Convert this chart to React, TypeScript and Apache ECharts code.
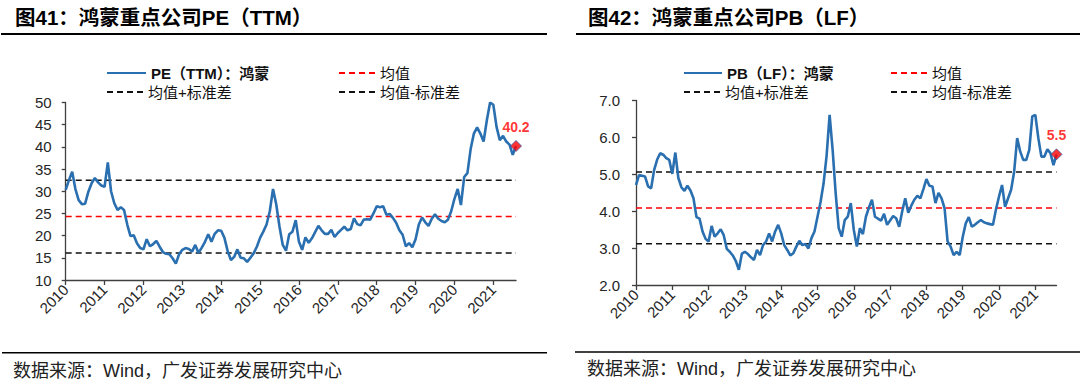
import React, { useEffect, useRef } from "react";
import * as echarts from "echarts";

// ---- data ----
const years = [2010, 2011, 2012, 2013, 2014, 2015, 2016, 2017, 2018, 2019, 2020, 2021];
const monthCount = 140; // Jan 2010 .. Aug 2021
const categories: string[] = [];
years.forEach((y) => {
  for (let m = 1; m <= 12; m++) categories.push(`${y}-${m < 10 ? "0" + m : m}`);
});
categories.length = monthCount;

const peValues = [
  30.3, 32.5, 34.4, 30.5, 28.0, 27.1, 27.2, 29.9, 31.8, 33.0, 32.0, 31.3,
  31.0, 36.5, 30.0, 27.3, 25.8, 26.4, 25.8, 22.5, 19.9, 20.1, 18.3, 17.2,
  16.9, 19.2, 17.6, 18.1, 18.8, 17.5, 16.3, 15.9, 15.8, 14.9, 13.7, 15.8,
  16.8, 17.2, 17.0, 16.4, 17.9, 16.1, 17.3, 18.6, 20.3, 18.6, 20.4, 21.2,
  21.1, 19.5, 16.5, 14.5, 15.2, 16.9, 15.0, 14.9, 14.1, 15.0, 16.0, 17.5,
  19.5, 20.9, 22.5, 25.5, 30.5, 27.0, 22.0, 17.9, 16.6, 20.3, 20.9, 23.5,
  18.6, 16.8, 19.6, 18.4, 19.4, 20.8, 22.2, 21.2, 20.4, 20.4, 21.3, 19.7,
  20.6, 21.3, 22.0, 21.2, 21.5, 23.9, 22.6, 22.3, 23.6, 23.7, 23.6, 25.0,
  26.6, 26.4, 26.6, 24.7, 24.9, 24.0, 22.9, 21.2, 20.2, 17.6, 18.3, 17.4,
  19.2, 22.5, 24.1, 23.0, 22.2, 23.8, 24.8, 23.8, 23.3, 23.0, 23.6, 25.5,
  28.3, 30.5, 26.9, 33.2, 34.1, 39.5, 43.0, 44.4, 43.0, 41.2, 46.0, 50.0,
  49.5, 44.5, 41.5, 42.5, 41.2, 40.5, 38.2, 40.2,
];

const pbValues = [
  4.71, 4.98, 4.96, 4.94, 4.67, 4.62, 5.12, 5.40, 5.57, 5.53, 5.44, 5.39,
  5.01, 5.59, 4.90, 4.65, 4.55, 4.69, 4.56, 4.35, 3.84, 3.80, 3.45, 3.25,
  3.18, 3.60, 3.31, 3.40, 3.51, 3.35, 2.98, 2.90, 2.80, 2.65, 2.41, 2.85,
  2.90, 2.84, 2.75, 2.68, 2.95, 2.81, 3.08, 3.18, 3.40, 3.18, 3.45, 3.63,
  3.40, 3.08, 2.95, 2.80, 2.86, 3.04, 3.20, 3.08, 3.11, 2.99, 3.27, 3.45,
  3.85, 4.25, 4.75, 5.50, 6.61, 5.66, 4.49, 3.54, 3.31, 3.76, 3.85, 4.22,
  3.49, 3.04, 3.54, 3.38, 3.85, 4.10, 4.31, 3.85, 3.80, 3.74, 3.93, 3.63,
  3.75, 3.87, 3.81, 3.58, 4.00, 4.35, 3.96, 4.15, 4.31, 4.42, 4.35, 4.60,
  4.87, 4.69, 4.67, 4.22, 4.50, 4.35, 4.08, 3.18, 3.04, 2.81, 2.90, 2.81,
  3.30, 3.67, 3.84, 3.58, 3.63, 3.70, 3.76, 3.70, 3.67, 3.65, 3.63, 4.05,
  4.40, 4.71, 4.12, 4.35, 4.58, 5.07, 5.98, 5.62, 5.39, 5.39, 5.66, 6.57,
  6.61, 5.98, 5.48, 5.48, 5.68, 5.57, 5.25, 5.54,
];

// mean, mean + std, mean - std
const peRefs = [24.3, 32.5, 16.1];
const pbRefs = [4.09, 5.06, 3.12];

const peTicks = { min: 10, max: 50, interval: 5 };
const pbTicks = { min: 2, max: 7, interval: 1 };

const peNames = ["PE（TTM）：鸿蒙", "均值", "均值+标准差", "均值-标准差"];
const pbNames = ["PB（LF）：鸿蒙", "均值 ", "均值+标准差 ", "均值-标准差 "];

const titles = ["图41：鸿蒙重点公司PE（TTM）", "图42：鸿蒙重点公司PB（LF）"];
const sourceText = "数据来源：Wind，广发证券发展研究中心";

// ---- styles ----
const FONT = "'Liberation Sans', Arial, 'Noto Sans CJK SC', sans-serif";
const BLUE = "#2A6FAF";
const RED = "#FF0000";
const AXIS = "#404040";
const LABEL = "#262626";

function App() {
  const ref = useRef<HTMLDivElement>(null);

  useEffect(() => {
    if (!ref.current) return;
    const chart = echarts.init(ref.current, null, { renderer: "svg" });

    const grids = [
      { left: 65.7, top: 102.5, width: 450.3, height: 177.5, outerBoundsMode: "none" },
      { left: 636, top: 100.5, width: 420.5, height: 184.5, outerBoundsMode: "none" },
    ];

    const xAxisBase = (gridIndex: number, margin: number, fontSize: number) => ({
      type: "category",
      gridIndex,
      data: categories,
      boundaryGap: false,
      axisLine: { lineStyle: { color: AXIS, width: 1.3 } },
      axisTick: { interval: 11, length: 5, lineStyle: { color: AXIS, width: 1.3 } },
      axisLabel: {
        interval: 11,
        rotate: 45,
        margin,
        fontSize,
        color: LABEL,
        fontFamily: FONT,
        hideOverlap: false,
        formatter: (v: string) => v.slice(0, 4),
      },
      splitLine: { show: false },
    });

    const yAxisBase = (gridIndex: number, t: any, decimals: number, margin: number) => ({
      type: "value",
      gridIndex,
      min: t.min,
      max: t.max,
      interval: t.interval,
      axisLine: { show: true, lineStyle: { color: AXIS, width: 1.3 } },
      axisTick: { show: true, length: 4, lineStyle: { color: AXIS, width: 1.3 } },
      axisLabel: {
        margin,
        fontSize: 15,
        color: LABEL,
        fontFamily: FONT,
        formatter: (v: number) => v.toFixed(decimals),
      },
      splitLine: { show: false },
    });

    const refSeries = (names: string[], refs: number[], idx: number) =>
      refs.map((r, k) => ({
        name: names[k + 1],
        type: "line",
        xAxisIndex: idx,
        yAxisIndex: idx,
        data: categories.map(() => r),
        symbol: "none",
        silent: true,
        lineStyle: { color: k === 0 ? RED : "#111", width: 1.5, type: [6, 4] },
        itemStyle: { color: k === 0 ? RED : "#111" },
        z: 2,
      }));

    const mainSeries = (name: string, values: number[], idx: number) => ({
      name,
      type: "line",
      xAxisIndex: idx,
      yAxisIndex: idx,
      data: values,
      symbol: "none",
      lineStyle: { color: BLUE, width: 2.6 },
      itemStyle: { color: BLUE },
      z: 3,
    });

    const lastPoint = (values: number[], idx: number) => ({
      type: "scatter",
      xAxisIndex: idx,
      yAxisIndex: idx,
      data: [[values.length - 1, values[values.length - 1]]],
      symbol: "diamond",
      symbolSize: 11,
      itemStyle: { color: RED, borderColor: "#3A5BA8", borderWidth: 1 },
      label: {
        show: true,
        position: "top",
        distance: 6,
        color: RED,
        fontWeight: "bold",
        fontSize: 14,
        fontFamily: FONT,
        formatter: (p: any) => Number(p.value[1]).toFixed(1),
      },
      z: 5,
    });

    const legendItem = (name: string, left: number, top: number, bold: boolean, width: number) => ({
      data: [name],
      left,
      top,
      padding: 0,
      itemGap: 0,
      itemWidth: width,
      itemHeight: 14,
      selectedMode: false,
      itemStyle: { color: "rgba(0,0,0,0)", borderColor: "rgba(0,0,0,0)", borderWidth: 0, opacity: 0 },
      textStyle: {
        fontSize: 15,
        fontWeight: bold ? "bold" : "normal",
        color: "#111",
        fontFamily: FONT,
        lineHeight: 16,
      },
    });

    const option: any = {
      animation: false,
      backgroundColor: "#ffffff",
      grid: grids,
      xAxis: [xAxisBase(0, 7, 15), xAxisBase(1, 7, 15)],
      yAxis: [yAxisBase(0, peTicks, 0, 14), yAxisBase(1, pbTicks, 1, 16)],
      legend: [
        legendItem(peNames[0], 106, 65, true, 39),
        legendItem(peNames[1], 338, 65, false, 36),
        legendItem(peNames[2], 106, 84, false, 36),
        legendItem(peNames[3], 338, 84, false, 36),
        legendItem(pbNames[0], 683, 65, true, 38),
        legendItem(pbNames[1], 890, 65, false, 36),
        legendItem(pbNames[2], 683, 84, false, 36),
        legendItem(pbNames[3], 890, 84, false, 36),
      ],
      series: [
        ...refSeries(peNames, peRefs, 0),
        mainSeries(peNames[0], peValues, 0),
        lastPoint(peValues, 0),
        ...refSeries(pbNames, pbRefs, 1),
        mainSeries(pbNames[0], pbValues, 1),
        lastPoint(pbValues, 1),
      ],
      graphic: [
        {
          type: "text",
          left: 15,
          top: 7,
          style: { text: titles[0], fontSize: 20.5, fontWeight: "bold", fill: "#000", fontFamily: FONT },
        },
        {
          type: "text",
          left: 588,
          top: 7,
          style: { text: titles[1], fontSize: 20.5, fontWeight: "bold", fill: "#000", fontFamily: FONT },
        },
        { type: "line", shape: { x1: 1, y1: 34, x2: 547, y2: 34 }, style: { stroke: "#000", lineWidth: 2 } },
        { type: "line", shape: { x1: 576, y1: 34, x2: 1080, y2: 34 }, style: { stroke: "#000", lineWidth: 2 } },
        { type: "line", shape: { x1: 2, y1: 352.7, x2: 547, y2: 352.7 }, style: { stroke: "#000", lineWidth: 1.5 } },
        { type: "line", shape: { x1: 575, y1: 352, x2: 1080, y2: 352 }, style: { stroke: "#000", lineWidth: 1.5 } },
        {
          type: "text",
          left: 13,
          top: 362,
          style: { text: sourceText, fontSize: 18, fill: "#222", fontFamily: FONT },
        },
        {
          type: "text",
          left: 587,
          top: 360,
          style: { text: sourceText, fontSize: 18, fill: "#222", fontFamily: FONT },
        },
      ],
    };

    chart.setOption(option);
    return () => chart.dispose();
  }, []);

  return (
    <div
      ref={ref}
      style={{ position: "fixed", left: 0, top: 0, width: 1080, height: 388, background: "#fff" }}
    />
  );
}

export default App;
